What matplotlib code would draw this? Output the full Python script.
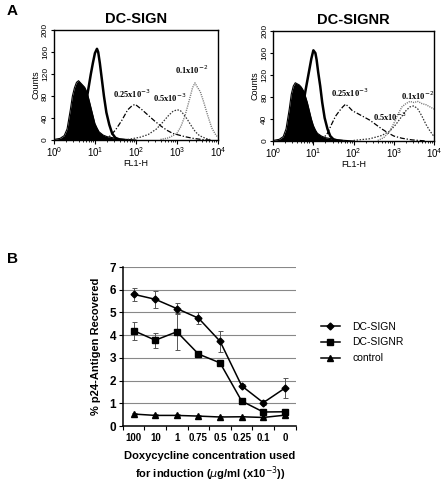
import numpy as np
import matplotlib
matplotlib.use("Agg")
import matplotlib.pyplot as plt
from matplotlib.ticker import LogLocator, NullFormatter, FixedLocator
from matplotlib.lines import Line2D

plt.rcParams['font.family'] = ['Liberation Sans', 'DejaVu Sans']

# ---------------- Panel A data (log10 FL1-H, counts) ----------------
# DC-SIGN
sign_black_x = [0.0, 0.15, 0.25, 0.32, 0.4, 0.45, 0.5, 0.55, 0.6, 0.65, 0.7, 0.75, 0.8, 0.85, 0.9, 0.95, 1.0, 1.05, 1.1, 1.2, 1.3, 1.45, 1.6, 1.8, 2.0]
sign_black_y = [1, 3, 8, 20, 55, 80, 95, 105, 108, 104, 100, 96, 88, 75, 60, 45, 30, 22, 15, 9, 6, 4, 2, 1, 0]
sign_neg_x = [0.5, 0.6, 0.7, 0.8, 0.9, 0.95, 1.0, 1.05, 1.08, 1.12, 1.17, 1.22, 1.28, 1.35, 1.42, 1.5, 1.6, 1.7]
sign_neg_y = [3, 12, 35, 75, 120, 140, 158, 166, 160, 140, 110, 80, 50, 28, 12, 4, 1, 0]
sign_025_x = [1.2, 1.35, 1.5, 1.65, 1.8, 1.9, 1.98, 2.05, 2.15, 2.3, 2.45, 2.6, 2.75, 2.9, 3.05, 3.2, 3.4, 3.6, 3.8]
sign_025_y = [1, 6, 18, 35, 55, 62, 65, 61, 55, 45, 35, 26, 18, 12, 9, 6, 3, 1, 0]
sign_05_x = [1.8, 2.1, 2.3, 2.5, 2.65, 2.8, 2.9, 3.0, 3.08, 3.15, 3.25, 3.35, 3.45, 3.55, 3.7, 3.85]
sign_05_y = [1, 5, 10, 20, 32, 45, 52, 55, 54, 48, 38, 26, 15, 8, 3, 0]
sign_01_x = [2.6, 2.8, 3.0, 3.1, 3.2, 3.3, 3.38, 3.44, 3.5, 3.57, 3.65, 3.75, 3.85, 3.95, 4.0]
sign_01_y = [1, 4, 12, 25, 45, 72, 95, 104, 96, 88, 70, 45, 22, 9, 5]

# DC-SIGNR
signr_black_x = [0.0, 0.15, 0.25, 0.32, 0.4, 0.45, 0.5, 0.55, 0.6, 0.65, 0.7, 0.75, 0.8, 0.85, 0.9, 0.95, 1.0, 1.05, 1.1, 1.2, 1.3, 1.45, 1.6, 1.8, 2.0]
signr_black_y = [1, 3, 8, 22, 58, 85, 100, 106, 104, 102, 98, 92, 82, 70, 55, 40, 28, 20, 14, 9, 6, 4, 2, 1, 0]
signr_neg_x = [0.5, 0.6, 0.7, 0.8, 0.9, 0.95, 1.0, 1.05, 1.08, 1.12, 1.17, 1.22, 1.28, 1.35, 1.42, 1.5, 1.6, 1.7]
signr_neg_y = [3, 15, 45, 90, 130, 150, 165, 160, 148, 125, 100, 70, 42, 22, 9, 3, 1, 0]
signr_025_x = [1.15, 1.25, 1.35, 1.45, 1.55, 1.65, 1.73, 1.8, 1.88, 1.97, 2.1, 2.25, 2.4, 2.55, 2.7, 2.85, 3.0, 3.2, 3.45, 3.8]
signr_025_y = [1, 5, 14, 30, 45, 55, 62, 67, 62, 55, 50, 44, 38, 30, 22, 15, 9, 5, 2, 0]
signr_05_x = [2.0, 2.4, 2.7, 2.9, 3.05, 3.2, 3.3, 3.4, 3.5, 3.6, 3.7, 3.8, 3.9, 4.0]
signr_05_y = [1, 4, 10, 18, 30, 45, 55, 62, 64, 58, 45, 30, 18, 8]
signr_01_x = [2.6, 2.75, 2.9, 3.0, 3.1, 3.2, 3.3, 3.4, 3.5, 3.6, 3.7, 3.8, 3.9, 4.0]
signr_01_y = [1, 6, 18, 32, 48, 62, 68, 72, 70, 72, 68, 66, 62, 58]

conc_labels = ["0.25x10$^{-3}$", "0.5x10$^{-3}$", "0.1x10$^{-2}$"]

# ---------------- Panel B data ----------------
categories = ["100", "10", "1", "0.75", "0.5", "0.25", "0.1", "0"]
dcsign = [5.8, 5.58, 5.17, 4.75, 3.73, 1.77, 1.03, 1.67]
dcsign_err = [0.28, 0.38, 0.25, 0.25, 0.45, 0.08, 0.1, 0.45]
dcsignr = [4.2, 3.78, 4.15, 3.17, 2.78, 1.1, 0.62, 0.63]
dcsignr_err = [0.4, 0.33, 0.82, 0.12, 0.1, 0.1, 0.08, 0.05]
control = [0.53, 0.47, 0.47, 0.44, 0.4, 0.41, 0.38, 0.48]
control_err = [0.04, 0.04, 0.04, 0.04, 0.04, 0.04, 0.04, 0.07]

fig = plt.figure(figsize=(4.42, 4.82), dpi=100)

def hist_panel(rect, title, black, neg, c025, c05, c01, label_pos):
    ax = fig.add_axes(rect)
    bx, by = black
    ax.fill_between(10 ** np.array(bx), by, 0, color='black', lw=0)
    ax.plot(10 ** np.array(bx), by, color='black', lw=0.8)
    ax.plot(10 ** np.array(neg[0]), neg[1], color='black', lw=1.8)
    ax.plot(10 ** np.array(c025[0]), c025[1], color='black', lw=0.9, ls=(0, (4, 1.5, 1, 1.5)))
    ax.plot(10 ** np.array(c05[0]), c05[1], color='#333333', lw=0.9, ls=(0, (1.2, 1.2)))
    ax.plot(10 ** np.array(c01[0]), c01[1], color='#777777', lw=1.0, ls=(0, (0.8, 0.8)))
    ax.set_xscale('log')
    ax.set_xlim(1, 1e4)
    ax.set_ylim(0, 200)
    ax.set_yticks([0, 40, 80, 120, 160, 200])
    ax.set_yticklabels(['0', '40', '80', '120', '160', '200'], rotation=90, va='center', fontsize=6)
    ax.xaxis.set_major_locator(LogLocator(base=10, numticks=10))
    ax.xaxis.set_minor_locator(LogLocator(base=10, subs=np.arange(2, 10), numticks=10))
    ax.xaxis.set_minor_formatter(NullFormatter())
    ax.tick_params(axis='x', which='major', labelsize=7, length=3, direction='out', pad=1)
    ax.tick_params(axis='x', which='minor', length=1.5, direction='out')
    ax.tick_params(axis='y', length=2.5, pad=1)
    ax.set_ylabel('Counts', fontsize=6.5, labelpad=1)
    ax.set_xlabel('FL1-H', fontsize=6.5, labelpad=0)
    ax.set_title(title, fontsize=10.5, fontweight='bold', pad=5)
    for sp in ax.spines.values():
        sp.set_linewidth(1.0)
    for txt, (lx, ly) in zip(conc_labels, label_pos):
        ax.text(10 ** lx, ly, txt, fontsize=6, fontweight='bold', family='Liberation Serif',
                ha='left', va='center')
    return ax

hist_panel([0.122, 0.7095, 0.371, 0.228], 'DC-SIGN',
           (sign_black_x, sign_black_y), (sign_neg_x, sign_neg_y),
           (sign_025_x, sign_025_y), (sign_05_x, sign_05_y), (sign_01_x, sign_01_y),
           [(1.44, 84), (2.41, 77), (2.95, 128)])
hist_panel([0.618, 0.7075, 0.364, 0.228], 'DC-SIGNR',
           (signr_black_x, signr_black_y), (signr_neg_x, signr_neg_y),
           (signr_025_x, signr_025_y), (signr_05_x, signr_05_y), (signr_01_x, signr_01_y),
           [(1.44, 87), (2.48, 44), (3.18, 83)])

# ---------------- Panel B ----------------
axb = fig.add_axes([0.278, 0.116, 0.391, 0.330])
xpos = np.arange(len(categories)) + 0.5
for y in range(1, 8):
    axb.axhline(y, color='#888888', lw=0.8, zorder=0)
ekw = dict(ecolor='#555555', elinewidth=0.7, capsize=1.8, capthick=0.7)
axb.errorbar(xpos, dcsign, yerr=dcsign_err, color='black', marker='D', ms=3.5, lw=1.1, **ekw)
axb.errorbar(xpos, dcsignr, yerr=dcsignr_err, color='black', marker='s', ms=5, lw=1.1, **ekw)
axb.errorbar(xpos, control, yerr=control_err, color='black', marker='^', ms=5, lw=1.1, **ekw)
axb.set_xlim(0, 8)
axb.set_ylim(0, 7)
axb.set_yticks(range(0, 8))
axb.set_yticklabels([str(i) for i in range(8)], fontsize=8.5, fontweight='bold')
axb.set_xticks(range(0, 9))
axb.set_xticklabels([])
axb.xaxis.set_minor_locator(FixedLocator(xpos))
axb.set_xticklabels(categories, minor=True, fontsize=7, fontweight='bold')
axb.tick_params(axis='x', which='minor', length=0, pad=5)
axb.tick_params(axis='x', which='major', length=3, direction='out')
axb.tick_params(axis='y', length=3, direction='out', pad=2)
axb.spines['top'].set_visible(False)
axb.spines['right'].set_visible(False)
axb.spines['left'].set_linewidth(1.1)
axb.spines['bottom'].set_linewidth(1.1)
axb.set_ylabel('% p24-Antigen Recovered', fontsize=8, fontweight='bold', labelpad=6)
fig.text(0.475, 0.031, 'Doxycycline concentration used\nfor induction ($\\mu$g/ml (x10$^{-3}$))',
         fontsize=8, fontweight='bold', ha='center', va='center', linespacing=1.25)
handles = [Line2D([], [], color='black', marker='D', ms=3.5, lw=1.1),
           Line2D([], [], color='black', marker='s', ms=5, lw=1.1),
           Line2D([], [], color='black', marker='^', ms=5, lw=1.1)]
fig.legend(handles, ['DC-SIGN', 'DC-SIGNR', 'control'], loc='upper left',
           bbox_to_anchor=(0.705, 0.352), frameon=False, fontsize=7.5,
           handlelength=1.8, handletextpad=1.2, labelspacing=0.55)

fig.text(0.015, 0.978, 'A', fontsize=11, fontweight='bold', ha='left', va='center')
fig.text(0.015, 0.462, 'B', fontsize=11, fontweight='bold', ha='left', va='center')

fig.savefig('out.png', dpi=100)
